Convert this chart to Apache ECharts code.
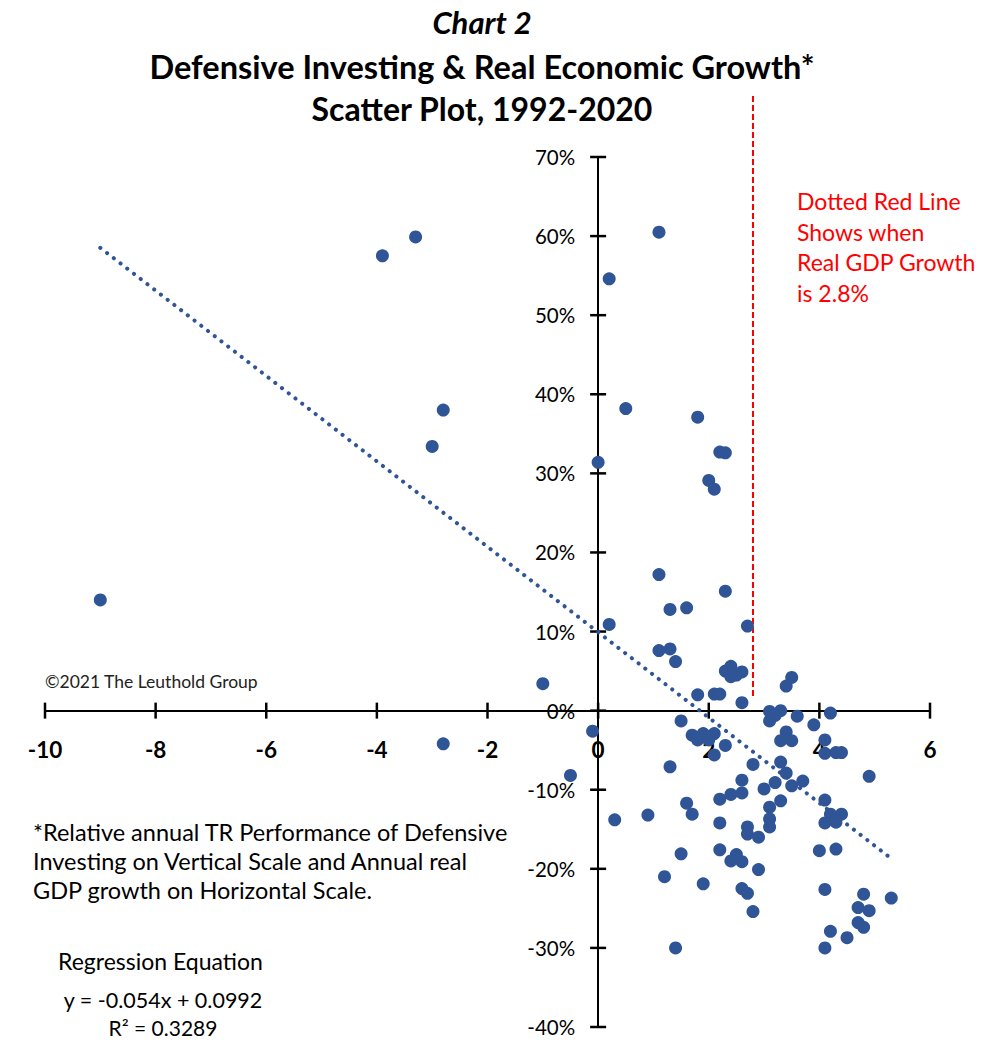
<!DOCTYPE html>
<html>
<head>
<meta charset="utf-8">
<script src="https://cdn.jsdelivr.net/npm/echarts@6/dist/echarts.min.js"></script>
<style>
  html, body { margin: 0; padding: 0; background: #fff; }
  #chart { width: 1000px; height: 1059px; }
</style>
</head>
<body>
<div id="chart"></div>
<script>
  // annual real GDP growth (horizontal) vs relative TR performance of defensive investing, %
  const gdpGrowth = [
    -9.0, -3.9, -3.3, -2.8, -3.0, -2.8, -1.0, -0.5, -0.1, 0.0,
    1.1, 0.2, 0.5, 1.8, 2.2, 2.3, 2.0, 2.1, 1.1, 2.3,
    1.3, 1.6, 0.2, 2.7, 1.1, 1.3, 1.4, 2.3, 2.4, 2.4,
    2.5, 2.6, 1.8, 2.1, 2.2, 2.6, 3.4, 3.5, 3.1, 3.3,
    3.2, 3.6, 4.2, 3.1, 1.5, 3.9, 3.4, 1.7, 1.9, 2.1,
    1.8, 2.0, 3.3, 3.5, 4.1, 2.3, 2.1, 4.1, 4.3, 4.4,
    3.3, 2.8, 1.3, 3.4, 4.9, 2.6, 3.7, 3.2, 3.5, 3.0,
    2.6, 2.4, 2.2, 3.3, 4.1, 1.6, 3.1, 1.7, 0.9, 0.3,
    4.2, 4.4, 4.3, 4.1, 3.1, 3.1, 2.2, 2.7, 2.7, 2.9,
    2.2, 1.5, 4.0, 4.3, 2.5, 2.4, 2.6, 2.9, 1.2, 1.9,
    2.6, 2.7, 4.1, 4.8, 5.3, 2.8, 4.7, 4.9, 4.7, 4.8,
    4.2, 4.5, 1.4, 4.1
  ];
  const defensivePerf = [
    14.0, 57.5, 59.9, 38.0, 33.4, -4.2, 3.4, -8.2, -2.6, 31.4,
    60.5, 54.6, 38.2, 37.1, 32.7, 32.6, 29.1, 28.0, 17.2, 15.1,
    12.8, 13.0, 10.9, 10.7, 7.6, 7.8, 6.2, 5.0, 5.6, 4.3,
    4.5, 4.9, 2.0, 2.1, 2.1, 1.0, 3.1, 4.2, -0.1, 0.0,
    -0.6, -0.7, -0.3, -1.3, -1.3, -1.8, -2.7, -3.1, -2.9, -2.9,
    -3.7, -3.7, -3.8, -3.8, -3.7, -4.4, -5.6, -5.4, -5.3, -5.3,
    -6.5, -6.8, -7.1, -7.9, -8.3, -8.8, -8.9, -9.1, -9.5, -9.9,
    -10.4, -10.6, -11.2, -11.4, -11.3, -11.7, -12.2, -13.1, -13.2, -13.8,
    -13.1, -13.1, -14.1, -14.2, -13.7, -14.7, -14.2, -14.7, -15.6, -16.0,
    -17.6, -18.1, -17.7, -17.5, -18.2, -19.0, -19.1, -20.1, -21.0, -21.9,
    -22.5, -23.1, -22.6, -23.2, -23.7, -25.4, -24.9, -25.3, -26.8, -27.4,
    -27.9, -28.7, -30.0, -30.0
  ];

  const xTicks = [-10, -8, -6, -4, -2, 0, 2, 4, 6];
  const yTicks = [-40, -30, -20, -10, 0, 10, 20, 30, 40, 50, 60, 70];

  // regression shown on the chart: y = -0.054x + 0.0992
  const slope = -0.054;
  const intercept = 0.0992;

  // dotted red marker at 2.8% real GDP growth
  const gdpThreshold = 2.8;
  const thresholdSpan = [77.7, 1.6];

  const points = gdpGrowth.map((x, i) => [x, defensivePerf[i]]);
  const xMin = Math.min(...gdpGrowth), xMax = Math.max(...gdpGrowth);
  const trend = [xMin, xMax].map(x => [x, (slope * x + intercept) * 100]);

  const font = 'Lato, "Open Sans", sans-serif';
  const blue = '#2f5597';

  const chart = echarts.init(document.getElementById('chart'), null, {renderer: 'svg'});

  const txt = (x, y, text, size, extra) => ({
    type: 'text',
    style: Object.assign({
      x: x, y: y, text: text,
      fontFamily: font, fontSize: size, fill: '#000'
    }, extra || {})
  });

  // axes cross at zero: ticks and tick labels sit on the zero lines
  const tickSeries = (data, size, label) => ({
    type: 'scatter',
    data: data,
    symbol: 'rect',
    symbolSize: size,
    itemStyle: {color: '#000', opacity: 1},
    label: label,
    silent: true,
    z: 2
  });

  chart.setOption({
    animation: false,
    grid: {left: 45, right: 70, top: 157, bottom: 32, containLabel: false, outerBoundsMode: 'none'},
    xAxis: {
      type: 'value',
      min: xTicks[0],
      max: xTicks[xTicks.length - 1],
      interval: 2,
      splitLine: {show: false},
      axisLine: {onZero: true, lineStyle: {color: '#000', width: 2}},
      axisTick: {show: false},
      axisLabel: {show: false}
    },
    yAxis: {
      type: 'value',
      min: yTicks[0],
      max: yTicks[yTicks.length - 1],
      interval: 10,
      splitLine: {show: false},
      axisLine: {onZero: true, lineStyle: {color: '#000', width: 2}},
      axisTick: {show: false},
      axisLabel: {show: false}
    },
    series: [
      tickSeries(xTicks.map(v => [v, 0]), [2.5, 16], {
        show: true, position: 'bottom', distance: 19,
        fontFamily: font, fontSize: 22.5, fontWeight: 'bold', color: '#000', opacity: 1,
        formatter: p => String(p.value[0])
      }),
      tickSeries(yTicks.map(v => [0, v]), [16, 2.5], {
        show: true, position: 'left', distance: 15,
        fontFamily: font, fontSize: 20.5, color: '#000', opacity: 1,
        formatter: p => p.value[1] + '%'
      }),
      {
        type: 'line',
        data: [[gdpThreshold, thresholdSpan[0]], [gdpThreshold, thresholdSpan[1]]],
        clip: false,
        symbol: 'none',
        silent: true,
        lineStyle: {color: '#ff0000', width: 2, type: [6, 3]},
        z: 1
      },
      {
        type: 'scatter',
        data: points,
        symbolSize: 13,
        itemStyle: {color: blue, opacity: 1},
        z: 3
      },
      {
        type: 'line',
        data: trend,
        symbol: 'none',
        silent: true,
        lineStyle: {color: blue, width: 4, type: [0.1, 8.4], cap: 'round'},
        z: 4
      }
    ],
    graphic: [
      txt(482, 22, 'Chart 2', 31, {fontWeight: 'bold', fontStyle: 'italic', align: 'center', verticalAlign: 'middle'}),
      txt(482, 66, 'Defensive Investing & Real Economic Growth*', 32.5, {fontWeight: 'bold', align: 'center', verticalAlign: 'middle'}),
      txt(482, 108, 'Scatter Plot, 1992-2020', 32, {fontWeight: 'bold', align: 'center', verticalAlign: 'middle'}),
      txt(797, 186, 'Dotted Red Line\nShows when\nReal GDP Growth\nis 2.8%', 23, {fill: '#ff0000', lineHeight: 30.5}),
      txt(45, 672, '\u00a92021 The Leuthold Group', 17.5, {fill: '#222'}),
      txt(33, 817, '*Relative annual TR Performance of Defensive\nInvesting on Vertical Scale and Annual real\nGDP growth on Horizontal Scale.', 23.5, {lineHeight: 29}),
      txt(58, 961, 'Regression Equation', 23, {verticalAlign: 'middle'}),
      txt(163, 1000, 'y = -0.054x + 0.0992', 21.5, {align: 'center', verticalAlign: 'middle'}),
      txt(163, 1027, 'R\u00b2 = 0.3289', 21, {align: 'center', verticalAlign: 'middle'})
    ]
  });
</script>
</body>
</html>
